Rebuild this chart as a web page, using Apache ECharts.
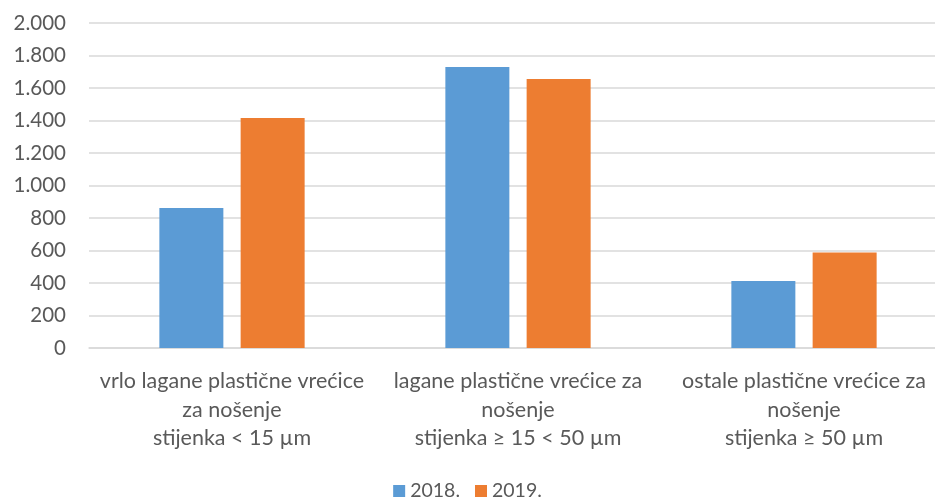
<!DOCTYPE html>
<html lang="hr">
<head>
  <meta charset="UTF-8">
  <title>Plastične vrećice</title>
  <style>
      html, body {
          margin: 0;
          padding: 0;
          background: #fff;
      }
      #chart {
          width: 935px;
          height: 500px;
      }
  </style>
</head>
<body>
<div id="chart"></div>

<script src="https://cdn.jsdelivr.net/npm/echarts@6/dist/echarts.min.js"></script>
<script>

  // podaci
  const categories = [
    'vrlo lagane plastične vrećice\nza nošenje\nstijenka < 15 µm',
    'lagane plastične vrećice za\nnošenje\nstijenka ≥ 15 < 50 µm',
    'ostale plastične vrećice za\nnošenje\nstijenka ≥ 50 µm'
  ];
  const values2018 = [862, 1729, 412];
  const values2019 = [1415, 1655, 587];
  const seriesNames = ['2018.', '2019.'];

  const font = 'Lato, "Liberation Sans", sans-serif';

  function dots(v) {
    return String(v).replace(/\B(?=(\d{3})+(?!\d))/g, '.');
  }

  const chart = echarts.init(document.getElementById('chart'));
  chart.setOption({
    animation: false,
    textStyle: { fontFamily: font },
    grid: {
      left: 89,
      top: 23,
      width: 858,
      height: 325,
      outerBoundsMode: 'none'
    },
    legend: {
      top: 481,
      left: 'center',
      padding: 0,
      itemWidth: 12,
      itemHeight: 12,
      itemGap: 15,
      icon: 'rect',
      textStyle: { color: '#595959', fontSize: 19.5, fontFamily: font },
      data: seriesNames
    },
    xAxis: {
      type: 'category',
      data: categories,
      axisLine: { lineStyle: { color: '#d9d9d9', width: 1.5 } },
      axisTick: { show: false },
      axisLabel: {
        color: '#595959',
        fontSize: 21.5,
        lineHeight: 28.5,
        margin: 19,
        interval: 0
      }
    },
    yAxis: {
      type: 'value',
      min: 0,
      max: 2000,
      interval: 200,
      axisLine: { show: false },
      axisTick: { show: false },
      splitLine: { lineStyle: { color: '#d9d9d9', width: 1.5 } },
      axisLabel: {
        color: '#595959',
        fontSize: 20.5,
        margin: 23,
        formatter: dots
      }
    },
    series: [
      {
        name: seriesNames[0],
        type: 'bar',
        data: values2018,
        barWidth: 64,
        barGap: '27%',
        itemStyle: { color: '#5b9bd5' }
      },
      {
        name: seriesNames[1],
        type: 'bar',
        data: values2019,
        barWidth: 64,
        itemStyle: { color: '#ed7d31' }
      }
    ]
  });

</script>
</body>
</html>
